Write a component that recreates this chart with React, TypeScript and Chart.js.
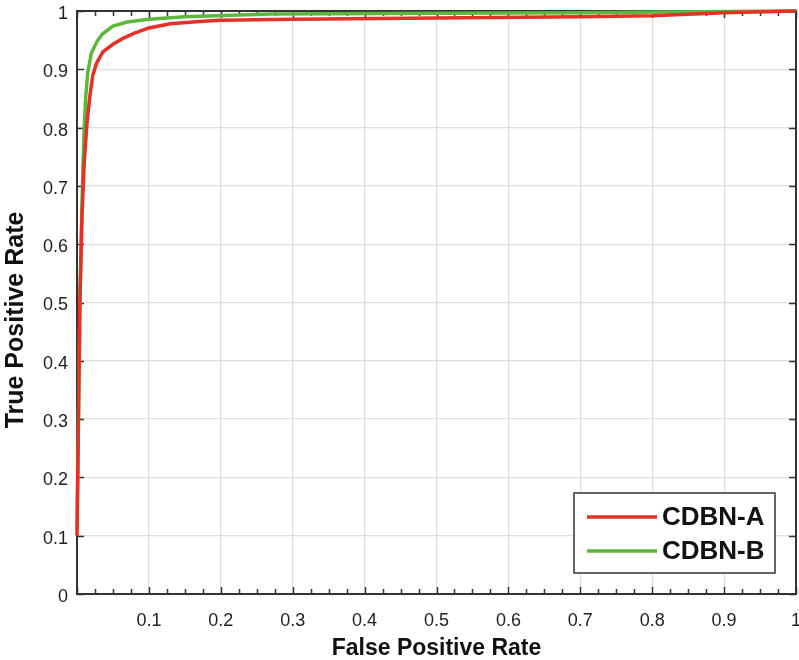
import React, { useEffect, useRef } from "react";
import { Chart, registerables } from "chart.js";
Chart.register(...registerables);

const seriesNames = ["CDBN-A", "CDBN-B"];
const fprA = [0, 0.002, 0.004, 0.007, 0.010, 0.014, 0.018, 0.022, 0.027, 0.036, 0.05, 0.064, 0.08, 0.10, 0.13, 0.17, 0.20, 0.30, 0.50, 0.70, 0.80, 0.90, 1.0];
const tprA = [0.10, 0.30, 0.50, 0.65, 0.74, 0.81, 0.855, 0.89, 0.91, 0.93, 0.943, 0.953, 0.962, 0.971, 0.978, 0.982, 0.984, 0.986, 0.988, 0.990, 0.992, 0.997, 1.0];
const fprB = [0, 0.002, 0.004, 0.006, 0.008, 0.010, 0.012, 0.015, 0.020, 0.028, 0.035, 0.05, 0.07, 0.10, 0.15, 0.27, 0.50, 0.70, 0.90, 1.0];
const tprB = [0.11, 0.30, 0.50, 0.62, 0.72, 0.80, 0.85, 0.895, 0.928, 0.948, 0.960, 0.974, 0.981, 0.986, 0.990, 0.995, 0.996, 0.997, 0.999, 1.0];
const colors = ["#e53027", "#5cb83c"];
const xTitle = "False Positive Rate";
const yTitle = "True Positive Rate";
const FONT = "'Liberation Sans', Arial, sans-serif";

const toPts = (xs: number[], ys: number[]) => xs.map((x, i) => ({ x, y: ys[i] }));

const framePlugin = {
  id: "frame",
  beforeDatasetsDraw(chart: any) {
    const { ctx, chartArea: a, scales } = chart;
    const xs = scales.x, ys = scales.y;
    ctx.save();
    ctx.strokeStyle = "#333";
    ctx.lineWidth = 1.5;
    for (let i = 0; i <= 40; i++) {
      const v = i * 0.025;
      const px = Math.round(xs.getPixelForValue(v)) + 0.5;
      const len = i % 4 === 0 ? 7 : 5;
      ctx.beginPath();
      ctx.moveTo(px, a.bottom); ctx.lineTo(px, a.bottom - len);
      ctx.moveTo(px, a.top); ctx.lineTo(px, a.top + len);
      ctx.stroke();
    }
    for (let i = 0; i <= 10; i++) {
      const py = Math.round(ys.getPixelForValue(i / 10)) + 0.5;
      ctx.beginPath();
      ctx.moveTo(a.left, py); ctx.lineTo(a.left + 7, py);
      ctx.moveTo(a.right, py); ctx.lineTo(a.right - 7, py);
      ctx.stroke();
    }
    ctx.lineWidth = 2;
    ctx.strokeRect(a.left, a.top, a.right - a.left, a.bottom - a.top);
    ctx.fillStyle = "#111";
    ctx.textAlign = "center";
    ctx.textBaseline = "middle";
    ctx.font = `bold 23px ${FONT}`;
    ctx.fillText(xTitle, (a.left + a.right) / 2, 649);
    ctx.save();
    ctx.translate(16, 320);
    ctx.rotate(-Math.PI / 2);
    ctx.font = `bold 25px ${FONT}`;
    ctx.fillText(yTitle, 0, 0);
    ctx.restore();
    ctx.restore();
  },
  afterDatasetsDraw(chart: any) {
    const { ctx } = chart;
    const bx = 574, by = 493, bw = 201, bh = 80;
    ctx.save();
    ctx.fillStyle = "#fff";
    ctx.fillRect(bx, by, bw, bh);
    ctx.strokeStyle = "#333";
    ctx.lineWidth = 1.5;
    ctx.strokeRect(bx, by, bw, bh);
    ctx.font = `bold 26px ${FONT}`;
    ctx.textBaseline = "middle";
    ctx.fillStyle = "#111";
    seriesNames.forEach((n, i) => {
      const y = 517 + i * 34;
      ctx.strokeStyle = colors[i];
      ctx.lineWidth = 3.5;
      ctx.beginPath();
      ctx.moveTo(587, y); ctx.lineTo(657, y);
      ctx.stroke();
      ctx.fillText(n, 662, y + 1);
    });
    ctx.restore();
  },
};

export default function App() {
  const ref = useRef<HTMLCanvasElement>(null);
  useEffect(() => {
    document.body.style.margin = "0";
    const chart = new Chart(ref.current!, {
      type: "scatter",
      data: {
        datasets: [
          { label: seriesNames[0], data: toPts(fprA, tprA), showLine: true, borderColor: colors[0], borderWidth: 3.5, pointRadius: 0, tension: 0, clip: false as any },
          { label: seriesNames[1], data: toPts(fprB, tprB), showLine: true, borderColor: colors[1], borderWidth: 3.5, pointRadius: 0, tension: 0, clip: false as any },
        ],
      },
      options: {
        animation: false,
        responsive: false,
        layout: { padding: { top: 11, right: 3, left: 0, bottom: 0 } },
        plugins: { legend: { display: false }, tooltip: { enabled: false } },
        scales: {
          x: {
            type: "linear", min: 0, max: 1,
            afterFit: (s: any) => { s.height = 66; s.paddingLeft = 0; s.paddingRight = 0; },
            ticks: {
              stepSize: 0.1, padding: 16, color: "#222", maxRotation: 0,
              font: { size: 18, family: FONT },
              callback: (v: any) => (Math.abs(v) < 1e-9 ? "" : String(Number(Number(v).toFixed(1)))),
            },
            grid: { color: "#dedede", lineWidth: 1.2, drawTicks: false },
            border: { display: false },
          },
          y: {
            type: "linear", min: 0, max: 1,
            afterFit: (s: any) => { s.width = 77; s.paddingTop = 0; s.paddingBottom = 0; },
            ticks: {
              stepSize: 0.1, padding: 9, color: "#222", labelOffset: 3,
              font: { size: 18, family: FONT },
              callback: (v: any) => String(Number(Number(v).toFixed(1))),
            },
            grid: { color: "#dedede", lineWidth: 1.2, drawTicks: false },
            border: { display: false },
          },
        },
      },
      plugins: [framePlugin],
    });
    return () => chart.destroy();
  }, []);
  return (
    <div style={{ width: 799, height: 660, background: "#fff" }}>
      <canvas ref={ref} width={799} height={660} style={{ width: 799, height: 660, display: "block" }} />
    </div>
  );
}
